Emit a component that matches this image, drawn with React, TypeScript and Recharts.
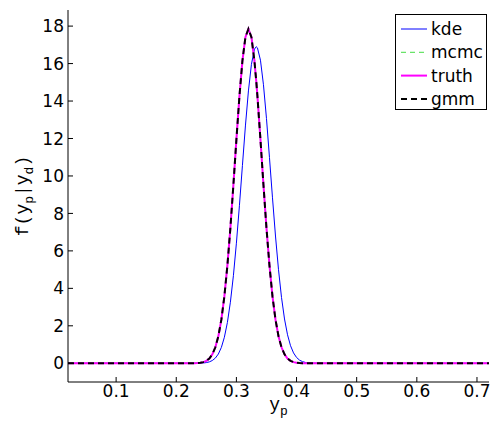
import React from "react";
import { LineChart, Line, XAxis, YAxis } from "recharts";

// x grid (y_p)
const XS = [
  0.02, 0.1, 0.2, 0.23, 0.235, 0.24, 0.245, 0.25, 0.255, 0.26, 0.265, 0.27, 0.275, 0.28,
  0.285, 0.29, 0.295, 0.3, 0.305, 0.31, 0.315, 0.32, 0.325, 0.33, 0.333, 0.335, 0.34,
  0.345, 0.35, 0.355, 0.36, 0.365, 0.37, 0.375, 0.38, 0.385, 0.39, 0.395, 0.4, 0.405,
  0.41, 0.415, 0.42, 0.425, 0.43, 0.44, 0.5, 0.6, 0.72,
];
const KDE = [
  0, 0, 0, 0.0013, 0.0033, 0.0077, 0.0172, 0.0367, 0.0751, 0.147, 0.276, 0.494, 0.846, 1.387,
  2.174, 3.259, 4.674, 6.41, 8.41, 10.55, 12.67, 14.54, 15.96, 16.77, 16.9, 16.84, 16.18,
  14.87, 13.07, 10.98, 8.832, 6.793, 4.996, 3.515, 2.365, 1.522, 0.937, 0.552, 0.311, 0.167,
  0.0863, 0.0425, 0.02, 0.009, 0.004, 0, 0, 0, 0,
];
const MCMC = [
  0, 0, 0, 0.002, 0.013, 0.029, 0.062, 0.129, 0.255, 0.478, 0.853, 1.446, 2.33, 3.57,
  5.21, 7.22, 9.52, 11.94, 14.24, 16.14, 17.41, 17.85, 17.5, 16.3, 15.2, 14.35, 11.98,
  9.52, 7.22, 5.21, 3.57, 2.33, 1.446, 0.853, 0.478, 0.255, 0.129, 0.062, 0.029, 0.013,
  0.005, 0.002, 0, 0, 0, 0, 0, 0, 0,
];
const TRUTH = [
  0, 0, 0, 0.002, 0.013, 0.029, 0.062, 0.129, 0.255, 0.478, 0.853, 1.446, 2.33, 3.57,
  5.21, 7.22, 9.52, 11.94, 14.24, 16.14, 17.41, 17.85, 17.41, 16.14, 15.06, 14.24, 11.94,
  9.52, 7.22, 5.21, 3.57, 2.33, 1.446, 0.853, 0.478, 0.255, 0.129, 0.062, 0.029, 0.013,
  0.005, 0.002, 0, 0, 0, 0, 0, 0, 0,
];
const GMM = [
  0, 0, 0, 0.002, 0.013, 0.029, 0.062, 0.129, 0.255, 0.478, 0.853, 1.446, 2.33, 3.57,
  5.21, 7.22, 9.52, 11.94, 14.24, 16.14, 17.41, 17.85, 17.41, 16.14, 15.06, 14.24, 11.94,
  9.52, 7.22, 5.21, 3.57, 2.33, 1.446, 0.853, 0.478, 0.255, 0.129, 0.062, 0.029, 0.013,
  0.005, 0.002, 0, 0, 0, 0, 0, 0, 0,
];
const X_TICKS = [0.1, 0.2, 0.3, 0.4, 0.5, 0.6, 0.7];
const Y_TICKS = [0, 2, 4, 6, 8, 10, 12, 14, 16, 18];
const X_DOMAIN = [0.02, 0.72];
const Y_DOMAIN = [-1, 18.86];

const SERIES_KEYS = ["kde", "mcmc", "truth", "gmm"];
const SERIES_COLORS = ["#0000ff", "#44dd44", "#ff00ff", "#000000"];
const SERIES_WIDTHS = [1, 1, 2, 2];
const SERIES_DASHES = [undefined, "5 4", undefined, "6 4"];

const data = XS.map((x, i) => ({
  x,
  kde: KDE[i],
  mcmc: MCMC[i],
  truth: TRUTH[i],
  gmm: GMM[i],
}));

const SANS = "'DejaVu Sans', 'Liberation Sans', Arial, sans-serif";
const MONO = "'Liberation Mono', 'Courier New', monospace";
const FS = 17;

const Empty = () => <g />;

function YTick(p: any) {
  const c = p.payload ? p.payload.coordinate : p.y;
  return (
    <g>
      <text x={64} y={c} dy="0.36em" textAnchor="end" fontFamily={SANS} fontSize={FS} fill="#000">
        {p.payload ? p.payload.value : ""}
      </text>
    </g>
  );
}

function XTick(p: any) {
  const c = p.payload ? p.payload.coordinate : p.x;
  return (
    <text x={c} y={397} textAnchor="middle" fontFamily={SANS} fontSize={FS} fill="#000">
      {p.payload ? String(p.payload.value) : ""}
    </text>
  );
}

function YLabel() {
  const cx = 28;
  const cy = 196;
  return (
    <text x={cx} y={cy} transform={`rotate(-90, ${cx}, ${cy})`} textAnchor="middle" fontFamily={MONO} fontSize={18} fill="#000">
      f(y<tspan fontSize={13} dy={5}>p</tspan><tspan dy={-5}>|y</tspan><tspan fontSize={13} dy={5}>d</tspan><tspan dy={-5}>)</tspan>
    </text>
  );
}

function XLabel() {
  return (
    <text x={278.5} y={410} textAnchor="middle" fontFamily={MONO} fontSize={18} fill="#000">
      y<tspan fontSize={13} dy={5}>p</tspan>
    </text>
  );
}

function LegendBox() {
  return (
    <svg width={92} height={96} style={{ display: "block", position: "absolute", left: 395, top: 14 }}>
      <rect x={0.5} y={0.5} width={91} height={95} fill="#fff" stroke="#000" strokeWidth={1} />
      {SERIES_KEYS.map((k, i) => {
        const y = 15 + i * 23.3;
        return (
          <g key={k}>
            <line
              x1={6}
              x2={32}
              y1={y}
              y2={y}
              stroke={SERIES_COLORS[i]}
              strokeWidth={SERIES_WIDTHS[i]}
              strokeDasharray={SERIES_DASHES[i]}
            />
            <text x={36} y={y} dy="0.36em" fontFamily={SANS} fontSize={FS} fill="#000">
              {k}
            </text>
          </g>
        );
      })}
    </svg>
  );
}

export default function App() {
  return (
    <div style={{ position: "absolute", left: 0, top: 0, width: 492, height: 430, background: "#fff" }}>
      <LineChart width={492} height={430} data={data} margin={{ top: 10, right: 3, left: 0, bottom: 0 }}>
        <XAxis
          dataKey="x"
          type="number"
          domain={X_DOMAIN}
          ticks={X_TICKS}
          allowDataOverflow
          height={48}
          stroke="#000"
          tickSize={-5}
          tick={<XTick />}
          label={(p: any) => <XLabel {...p} />}
        />
        <XAxis
          xAxisId="top"
          orientation="top"
          dataKey="x"
          type="number"
          domain={X_DOMAIN}
          ticks={X_TICKS}
          allowDataOverflow
          height={0}
          stroke="#000"
          tickSize={-5}
          tick={<Empty />}
        />
        <YAxis
          type="number"
          domain={Y_DOMAIN}
          ticks={Y_TICKS}
          allowDataOverflow
          width={68}
          stroke="#000"
          tickSize={-5}
          tick={<YTick />}
          label={(p: any) => <YLabel {...p} />}
        />
        <YAxis
          yAxisId="right"
          orientation="right"
          type="number"
          domain={Y_DOMAIN}
          ticks={Y_TICKS}
          allowDataOverflow
          width={0}
          stroke="#000"
          tickSize={-5}
          tick={<Empty />}
        />
        {SERIES_KEYS.map((k, i) => (
          <Line
            key={k}
            dataKey={k}
            name={k}
            type="linear"
            stroke={SERIES_COLORS[i]}
            strokeWidth={SERIES_WIDTHS[i]}
            strokeDasharray={SERIES_DASHES[i]}
            dot={false}
            activeDot={false}
            isAnimationActive={false}
          />
        ))}
      </LineChart>
      <LegendBox />
    </div>
  );
}
